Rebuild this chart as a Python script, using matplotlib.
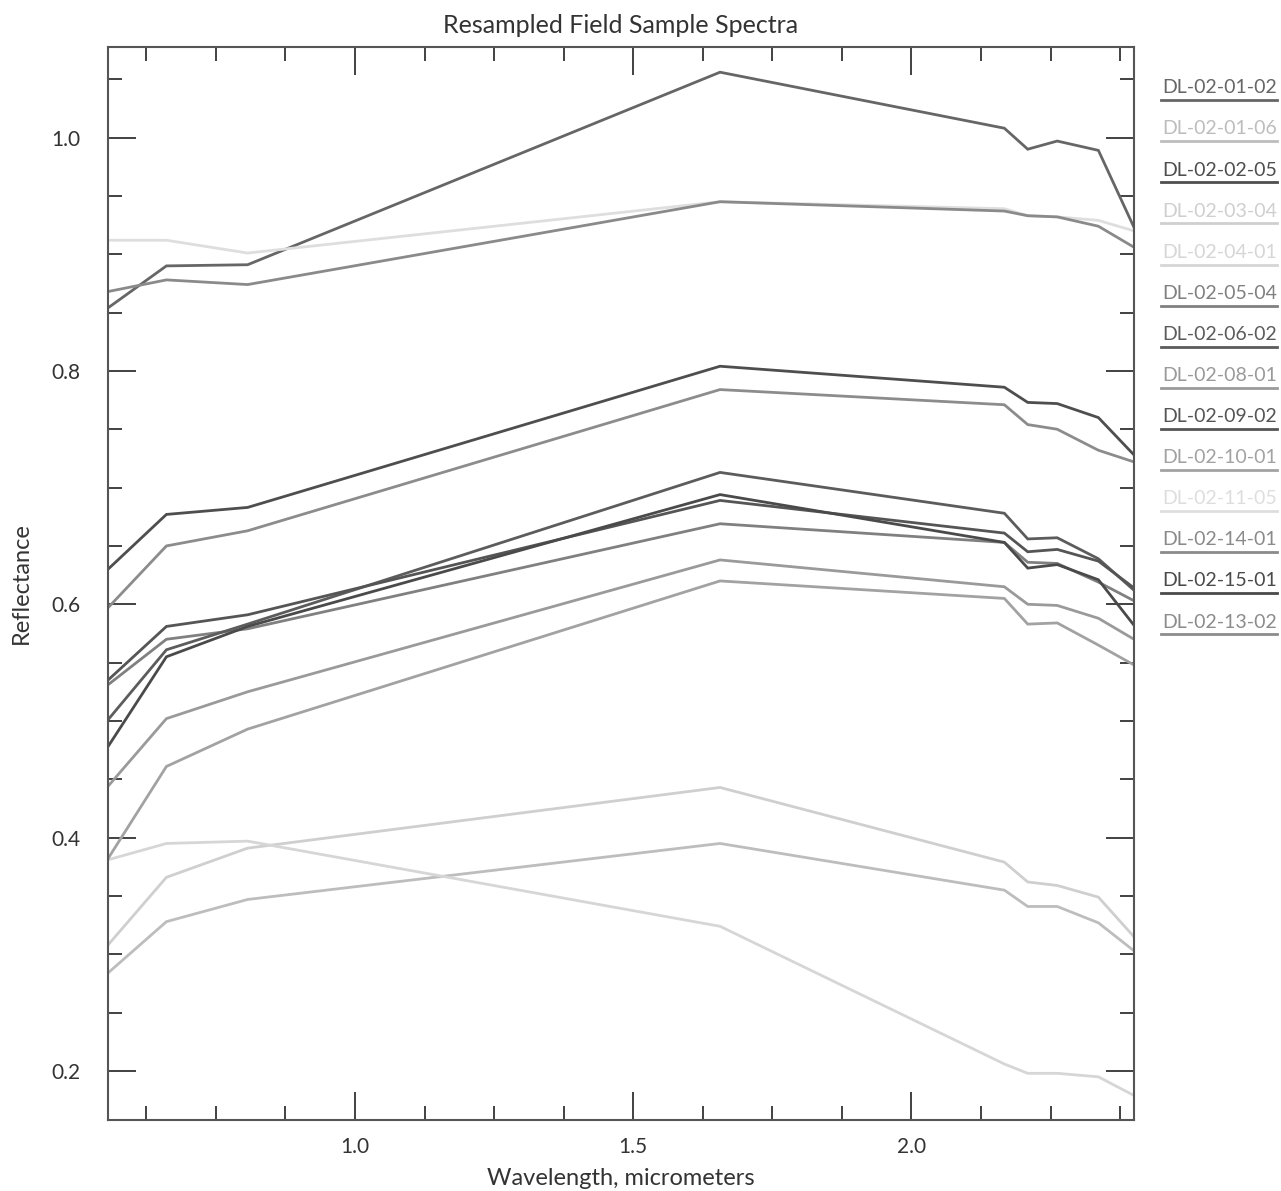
import matplotlib
matplotlib.use("Agg")
import matplotlib.pyplot as plt
from matplotlib.ticker import MultipleLocator, FormatStrFormatter
from matplotlib.lines import Line2D

plt.rcParams['font.family'] = ['Lato', 'DejaVu Sans']

wavelengths = [0.556, 0.661, 0.807, 1.656, 2.167, 2.209, 2.262, 2.336, 2.400]

names = ["DL-02-01-02", "DL-02-01-06", "DL-02-02-05", "DL-02-03-04", "DL-02-04-01",
         "DL-02-05-04", "DL-02-06-02", "DL-02-08-01", "DL-02-09-02", "DL-02-10-01",
         "DL-02-11-05", "DL-02-14-01", "DL-02-15-01", "DL-02-13-02"]

s_01_02 = [0.854, 0.890, 0.891, 1.056, 1.008, 0.990, 0.997, 0.989, 0.923]
s_01_06 = [0.284, 0.328, 0.347, 0.395, 0.355, 0.341, 0.341, 0.327, 0.303]
s_02_05 = [0.630, 0.677, 0.683, 0.804, 0.786, 0.773, 0.772, 0.760, 0.728]
s_03_04 = [0.308, 0.366, 0.391, 0.443, 0.379, 0.362, 0.359, 0.349, 0.315]
s_04_01 = [0.381, 0.395, 0.397, 0.324, 0.206, 0.198, 0.198, 0.195, 0.179]
s_05_04 = [0.531, 0.570, 0.579, 0.669, 0.653, 0.636, 0.635, 0.619, 0.603]
s_06_02 = [0.501, 0.561, 0.583, 0.713, 0.678, 0.656, 0.657, 0.639, 0.612]
s_08_01 = [0.444, 0.502, 0.525, 0.638, 0.615, 0.600, 0.599, 0.588, 0.570]
s_09_02 = [0.535, 0.581, 0.591, 0.689, 0.661, 0.645, 0.647, 0.637, 0.614]
s_10_01 = [0.382, 0.461, 0.493, 0.620, 0.605, 0.583, 0.584, 0.565, 0.548]
s_11_05 = [0.912, 0.912, 0.901, 0.945, 0.939, 0.933, 0.932, 0.929, 0.920]
s_14_01 = [0.868, 0.878, 0.874, 0.945, 0.937, 0.933, 0.932, 0.924, 0.906]
s_15_01 = [0.478, 0.555, 0.581, 0.694, 0.653, 0.631, 0.634, 0.621, 0.582]
s_13_02 = [0.597, 0.650, 0.663, 0.784, 0.771, 0.754, 0.750, 0.732, 0.722]

series = [s_01_02, s_01_06, s_02_05, s_03_04, s_04_01, s_05_04, s_06_02,
          s_08_01, s_09_02, s_10_01, s_11_05, s_14_01, s_15_01, s_13_02]

colors = ["#666666", "#bdbdbd", "#4e4e4e", "#cfcfcf", "#d6d6d6", "#808080", "#5c5c5c",
          "#9a9a9a", "#555555", "#a2a2a2", "#dedede", "#8a8a8a", "#4a4a4a", "#8c8c8c"]

fig = plt.figure(figsize=(12.81, 11.91), dpi=100)
ax = fig.add_axes([108/1281, 1 - 1120/1191, (1134 - 108)/1281, (1120 - 47)/1191])

for vals, c in zip(series, colors):
    ax.plot(wavelengths, vals, color=c, lw=2.0, solid_joinstyle='miter')

ax.set_xlim(0.556, 2.400)
ax.set_ylim(0.158, 1.0776)

ax.xaxis.set_major_locator(MultipleLocator(0.5))
ax.xaxis.set_minor_locator(MultipleLocator(0.125))
ax.yaxis.set_major_locator(MultipleLocator(0.2))
ax.yaxis.set_minor_locator(MultipleLocator(0.05))
ax.xaxis.set_major_formatter(FormatStrFormatter('%.1f'))
ax.yaxis.set_major_formatter(FormatStrFormatter('%.1f'))

ax.tick_params(which='both', direction='in', top=True, right=True, color='#333333',
               width=1.3, labelcolor='#333333', labelsize=15)
ax.tick_params(which='major', length=20)
ax.tick_params(which='minor', length=10)
ax.tick_params(axis='x', which='major', pad=12)
ax.tick_params(axis='y', which='major', pad=20)
for sp in ax.spines.values():
    sp.set_color('#555555')
    sp.set_linewidth(1.5)

ax.set_title("Resampled Field Sample Spectra", fontsize=18, color='#333333', pad=10)
ax.set_xlabel("Wavelength, micrometers", fontsize=17, color='#333333', labelpad=8)
ax.set_ylabel("Reflectance", fontsize=17, color='#333333', labelpad=14)

# legend on right: label text with an underline sample
x_right = 1277 / 1281
x_left = 1161 / 1281
for i, (nm, c) in enumerate(zip(names, colors)):
    base_y = 93.3 + i * 41.1
    fig.text(x_right, 1 - base_y / 1191, nm, ha='right', va='baseline',
             fontsize=14, color=c)
    uy = 1 - (base_y + 6.8) / 1191
    fig.add_artist(Line2D([x_left, x_right], [uy, uy], color=c, lw=2.0,
                          transform=fig.transFigure))

fig.savefig("out.png", dpi=100)
